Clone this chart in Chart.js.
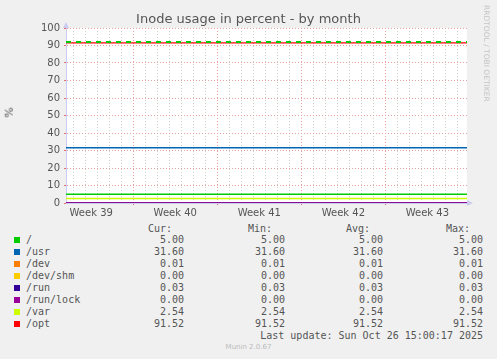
<!DOCTYPE html>
<html>
<head>
<meta charset="utf-8">
<script src="https://cdn.jsdelivr.net/npm/chart.js@4/dist/chart.umd.min.js"></script>
<style>
  html, body { margin: 0; padding: 0; background: #f0f0f0; }
  #wrap { position: relative; width: 497px; height: 359px; overflow: hidden; font-family: "DejaVu Sans", sans-serif; color: #555; }
  #chart { position: absolute; left: 0; top: 0; }
  .abs { position: absolute; white-space: pre; }
  #title { left: 0; width: 497px; top: 11px; text-align: center; font-size: 13px; color: #555; }
  #ylabel { left: 4px; top: 106px; font-size: 11px; transform: rotate(-90deg); }
  #rrd { left: 482px; top: 5px; writing-mode: vertical-rl; font-size: 7.5px; color: #c4c4c4; }
  .mono { font-family: "DejaVu Sans Mono", monospace; font-size: 10px; line-height: 12px; color: #555; }
  .sw { position: absolute; width: 6px; height: 6px; }
  #munin { left: 0; width: 497px; top: 343px; text-align: center; font-size: 7px; color: #bbb; }
</style>
</head>
<body>
<div id="wrap">
  <canvas id="chart" width="497" height="220"></canvas>
  <div id="title" class="abs">Inode usage in percent - by month</div>
  <div id="ylabel" class="abs">%</div>
  <div id="rrd" class="abs">RRDTOOL / TOBI OETIKER</div>
  <div id="legend"></div>
  <div id="munin" class="abs">Munin 2.0.67</div>
</div>
<script>
const seriesNames = ["/", "/usr", "/dev", "/dev/shm", "/run", "/run/lock", "/var", "/opt"];
const seriesColors = ["#00cc00", "#0066b3", "#ff8000", "#ffcc00", "#330099", "#990099", "#ccff00", "#ff0000"];
const curValues = [5.00, 31.60, 0.01, 0.00, 0.03, 0.00, 2.54, 91.52];
const minValues = [5.00, 31.60, 0.01, 0.00, 0.03, 0.00, 2.54, 91.52];
const avgValues = [5.00, 31.60, 0.01, 0.00, 0.03, 0.00, 2.54, 91.52];
const maxValues = [5.00, 31.60, 0.01, 0.00, 0.03, 0.00, 2.54, 91.52];
const warningValues = [92];
const weekLabels = ["Week 39", "Week 40", "Week 41", "Week 42", "Week 43"];
const lastUpdate = "Last update: Sun Oct 26 15:00:17 2025";

// time axis in days: range shown, first day gridline, first week boundary
const dayMin = 0;
const dayMax = 33.4;
const firstDay = 0.6;
const firstWeekStart = -1.4;

const gridMinor = "#cfcfcf";
const gridMajor = "#e6a0a0";
const axisColor = "#ccccf0";
const clear = "rgba(0,0,0,0)";

function flat(v) {
  return [{ x: dayMin, y: v }, { x: dayMax, y: v }];
}

function near(a, b) {
  return Math.abs(a - b) < 0.01;
}

// x ticks: one every half day; odd index = day line, even index = mid-day
function tickValue(i) {
  return firstDay - 0.5 + 0.5 * i;
}

function isWeekLine(v) {
  const k = (v - firstWeekStart) / 7;
  return near(k, Math.round(k));
}

function weekLabelFor(v) {
  for (let i = 0; i < weekLabels.length; i++) {
    if (near(v, firstWeekStart + 7 * i + 3.5)) return weekLabels[i];
  }
  return "";
}

function xLineColor(ctx) {
  const i = ctx.index;
  if (i === undefined || i % 2 === 0) return clear;
  return isWeekLine(tickValue(i)) ? gridMajor : gridMinor;
}

function xTickColor(ctx) {
  const i = ctx.index;
  if (i === undefined || i % 2 === 0) return clear;
  return isWeekLine(tickValue(i)) ? "#e07070" : clear;
}

const datasets = seriesNames.map((name, i) => ({
  label: name,
  data: flat(curValues[i]),
  borderColor: seriesColors[i],
  borderWidth: 1.4,
  pointRadius: 0,
  order: seriesNames.length - i
}));
datasets.push({
  label: "warning",
  data: flat(warningValues[0]),
  borderColor: "#00cc00",
  borderWidth: 2,
  borderDash: [5, 5],
  pointRadius: 0,
  order: 0
});

const plotBackground = {
  id: "plotBackground",
  beforeDraw(chart) {
    const a = chart.chartArea;
    const c = chart.ctx;
    c.save();
    c.fillStyle = "#ffffff";
    c.fillRect(a.left, a.top, a.right - a.left, a.bottom - a.top);
    c.restore();
  },
  afterDraw(chart) {
    const a = chart.chartArea;
    const c = chart.ctx;
    c.save();
    c.fillStyle = axisColor;
    c.beginPath();
    c.moveTo(a.left - 3, a.top);
    c.lineTo(a.left + 3, a.top);
    c.lineTo(a.left, a.top - 6);
    c.closePath();
    c.fill();
    c.beginPath();
    c.moveTo(a.right, a.bottom - 3);
    c.lineTo(a.right, a.bottom + 3);
    c.lineTo(a.right + 6, a.bottom);
    c.closePath();
    c.fill();
    c.restore();
  }
};

new Chart(document.getElementById("chart"), {
  type: "line",
  data: { datasets: datasets },
  plugins: [plotBackground],
  options: {
    responsive: false,
    animation: false,
    layout: { padding: { top: 28, right: 30, left: 0, bottom: 0 } },
    plugins: { legend: { display: false }, tooltip: { enabled: false } },
    scales: {
      x: {
        type: "linear",
        min: dayMin,
        max: dayMax,
        afterBuildTicks(scale) {
          const t = [];
          for (let i = 0; tickValue(i) <= dayMax; i++) t.push({ value: tickValue(i) });
          scale.ticks = t;
        },
        afterFit(scale) { scale.height = 17; },
        ticks: {
          autoSkip: false,
          maxRotation: 0,
          padding: 2,
          color: "#555",
          font: { family: "DejaVu Sans", size: 10 },
          callback: (v) => weekLabelFor(v)
        },
        grid: {
          drawTicks: true,
          tickLength: 2,
          color: xLineColor,
          tickColor: xTickColor
        },
        border: { color: axisColor, dash: [1, 2] }
      },
      y: {
        min: 0,
        max: 100,
        afterFit(scale) { scale.width = 66; },
        ticks: {
          stepSize: 5,
          padding: 4,
          color: "#555",
          font: { family: "DejaVu Sans", size: 10 },
          callback: (v) => (v % 10 === 0 ? v : "")
        },
        grid: {
          drawTicks: true,
          tickLength: 2,
          color: (ctx) => (ctx.tick && ctx.tick.value % 10 === 0 ? gridMajor : gridMinor),
          tickColor: (ctx) => (ctx.tick && ctx.tick.value % 10 === 0 ? "#e07070" : clear)
        },
        border: { color: axisColor, dash: [1, 2] }
      }
    }
  }
});

// legend table below the plot
const legend = document.getElementById("legend");
const colRight = [184, 285, 383, 483];
const headers = ["Cur:", "Min:", "Avg:", "Max:"];
const headerRight = [172, 272, 370, 470];
const charW = 6.02;

function addText(text, right, top, left) {
  const d = document.createElement("div");
  d.className = "abs mono";
  d.textContent = text;
  d.style.top = top + "px";
  if (left !== undefined) d.style.left = left + "px";
  else d.style.left = (right - text.length * charW) + "px";
  legend.appendChild(d);
}

headers.forEach((h, j) => addText(h, headerRight[j], 223));
seriesNames.forEach((name, i) => {
  const top = 234 + i * 12;
  const sw = document.createElement("div");
  sw.className = "sw";
  sw.style.left = "14px";
  sw.style.top = (top + 3) + "px";
  sw.style.background = seriesColors[i];
  legend.appendChild(sw);
  addText(name, 0, top, 26);
  [curValues, minValues, avgValues, maxValues].forEach((arr, j) => {
    addText(arr[i].toFixed(2), colRight[j], top);
  });
});
addText(lastUpdate, 483, 330);
</script>
</body>
</html>
